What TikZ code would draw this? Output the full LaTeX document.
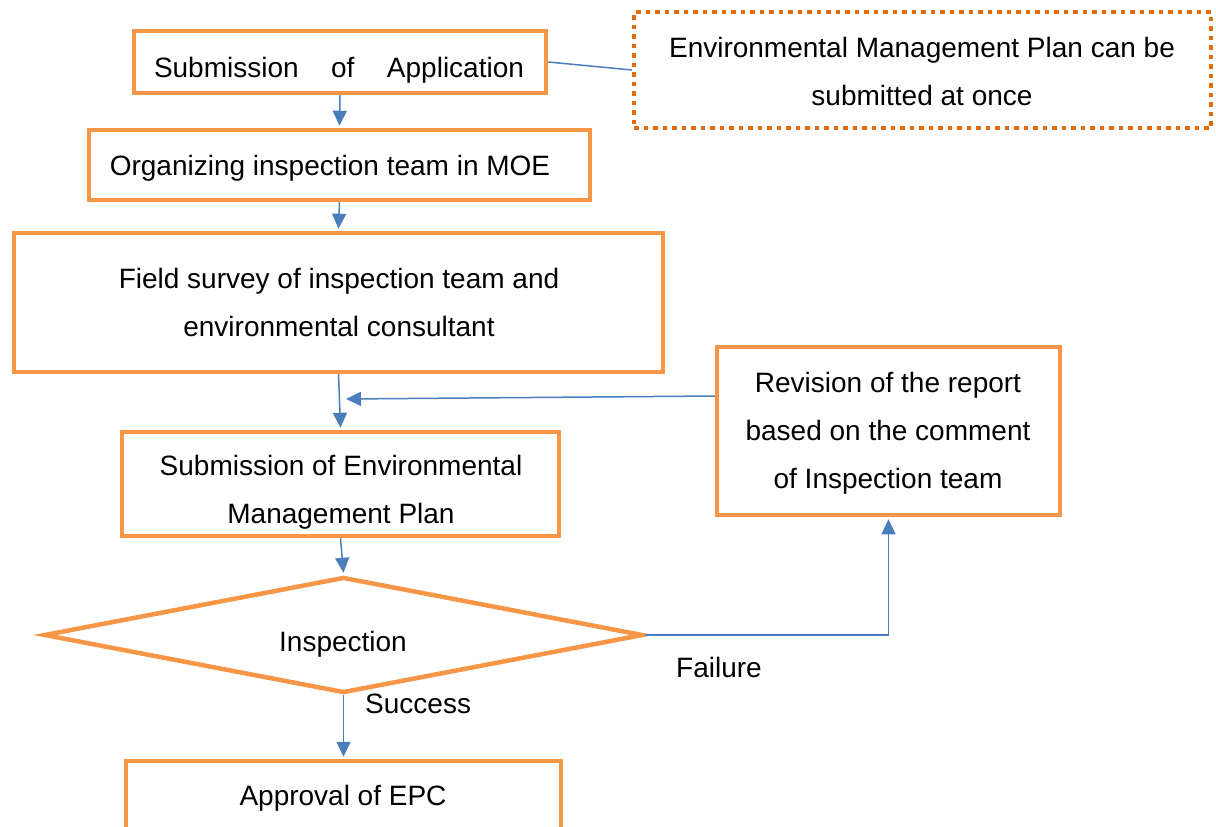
\documentclass[tikz,border=0pt]{standalone}
\usepackage{fontspec}
\setmainfont{Liberation Sans}
\usetikzlibrary{arrows.meta,shapes.geometric}
\definecolor{boxorange}{HTML}{F79646}
\definecolor{dotorange}{HTML}{E46C0A}
\definecolor{linkblue}{HTML}{4A7EBB}
\begin{document}
\begin{tikzpicture}[x=1pt,y=-1pt,
  stepbox/.style={draw=boxorange,line width=4.5pt,rectangle,inner sep=0pt,fill=none},
  notebox/.style={draw=dotorange,line width=4pt,dash pattern=on 4.5pt off 5pt,rectangle,inner sep=0pt},
  checkbox/.style={draw=boxorange,line width=4.5pt,diamond,inner sep=0pt,
     minimum width=599pt,minimum height=116pt,shape aspect=5.16},
  txt/.style={inner sep=0pt,anchor=base,align=center,font=\fontsize{28}{48}\selectfont},
  arr/.style={draw=linkblue,line width=1.5pt,-{Triangle[width=14pt,length=15pt]}},
  link/.style={draw=linkblue,line width=1.5pt}]
\useasboundingbox (0,0) rectangle (1216,827);
\clip (0,0) rectangle (1216,827);

% process boxes
\node[stepbox,minimum width=412pt,minimum height=62pt] (A) at (340,62) {};
\node[stepbox,minimum width=501pt,minimum height=70pt] (B) at (339.5,165) {};
\node[stepbox,minimum width=649pt,minimum height=139pt] (C) at (338.5,302.5) {};
\node[stepbox,minimum width=437pt,minimum height=104pt] (D) at (340.5,484) {};
\node[stepbox,minimum width=343pt,minimum height=168pt] (R) at (888.5,431) {};
\node[stepbox,minimum width=435pt,minimum height=90pt] (F) at (343.5,806) {};
\node[notebox,minimum width=577pt,minimum height=116pt] (E) at (922.5,70) {};
\node[checkbox] (Q) at (343.5,635) {};

% texts (multi-line texts sit on the baseline of their last line)
\node[txt] (tA) at (339,77) {\makebox[370pt][s]{Submission of Application}};
\node[txt] (tB) at (330,175) {Organizing inspection team in MOE};
\node[txt] (tC) at (339,336) {Field survey of inspection team and\\environmental consultant};
\node[txt] (tD) at (341,523) {Submission of Environmental\\Management Plan};
\node[txt] (tR) at (888,488) {Revision of the report\\based on the comment\\of Inspection team};
\node[txt] (tE) at (922,105) {Environmental Management Plan can be\\submitted at once};
\node[txt] (tQ) at (343,651) {Inspection};
\node[txt] (tF) at (343,805) {Approval of EPC};
\node[txt,anchor=base west] (fail) at (676,677) {Failure};
\node[txt,anchor=base west] (succ) at (365,713) {Success};

% connectors
\coordinate (fb) at (346,399);
\draw[arr] (A.south) -- ([yshift=2pt]B.north);
\draw[arr] (B.south) -- ([yshift=2pt]C.north);
\draw[arr] (C.south) -- ([yshift=2pt]D.north);
\draw[arr] ([yshift=35pt]R.west) -- (fb);
\draw[arr] (D.south) -- ([yshift=2pt]Q.north);
\draw[arr] (Q.east) -| ([yshift=-2pt]R.south);
\draw[arr] (Q.south) -- ([yshift=2pt]F.north);
\draw[link] (A.east) -- (E.west);
\end{tikzpicture}
\end{document}
